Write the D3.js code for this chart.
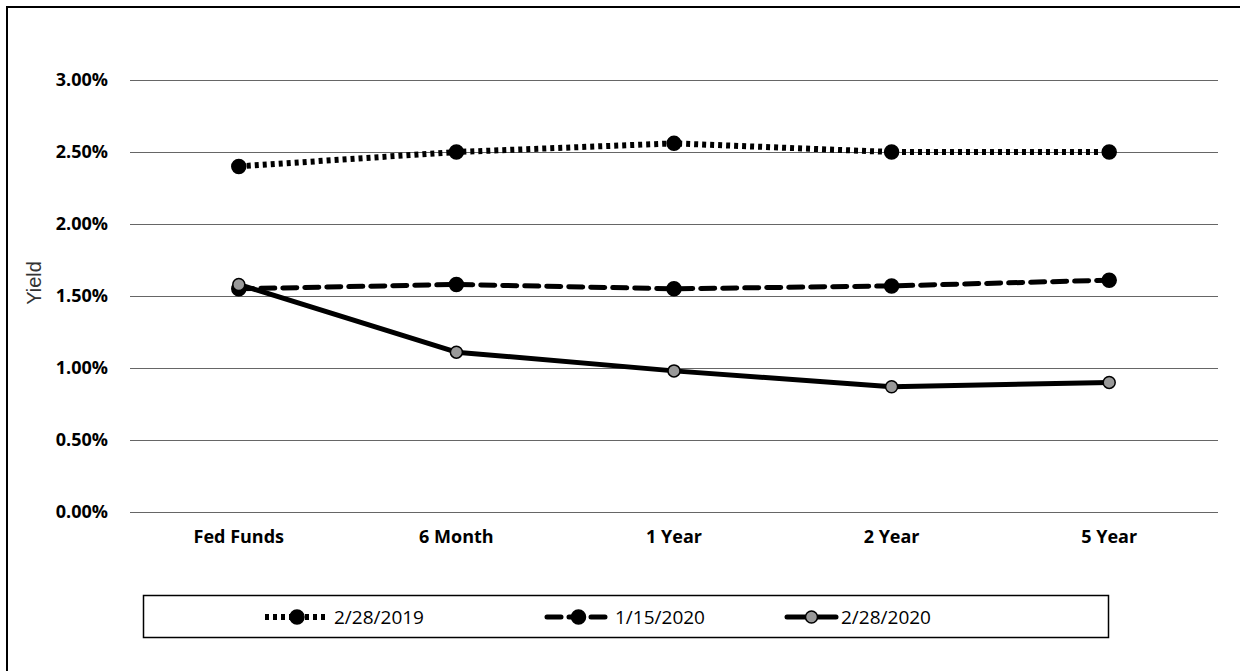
<!DOCTYPE html>
<html>
<head>
<meta charset="utf-8">
<script src="https://cdn.jsdelivr.net/npm/d3@7"></script>
<style>
  body { margin: 0; background: #fff; }
  svg { display: block; }
</style>
</head>
<body>
<div id="chart"></div>
<script>
// data
var categories = ["Fed Funds", "6 Month", "1 Year", "2 Year", "5 Year"];
var seriesNames = ["2/28/2019", "1/15/2020", "2/28/2020"];
var yield2019 = [2.40, 2.50, 2.56, 2.50, 2.50];
var yieldJan2020 = [1.55, 1.58, 1.55, 1.57, 1.61];
var yieldFeb2020 = [1.58, 1.11, 0.98, 0.87, 0.90];
var yTicks = [0, 0.5, 1.0, 1.5, 2.0, 2.5, 3.0];

var width = 1240, height = 671;
var margin = { top: 80, left: 130, right: 22, bottom: 159 };

var series = [
  { name: seriesNames[0], values: yield2019, dash: "4,4", width: 6, cap: "butt", fill: "#000", r: 7 },
  { name: seriesNames[1], values: yieldJan2020, dash: "14,8", width: 5, cap: "round", fill: "#000", r: 7 },
  { name: seriesNames[2], values: yieldFeb2020, dash: null, width: 5, cap: "round", fill: "#999", r: 6 }
];

var svg = d3.select("#chart").append("svg")
  .attr("width", width)
  .attr("height", height);

// outer frame (only top and left edges are in the photo)
svg.append("path")
  .attr("d", "M7," + height + "V7H" + width)
  .attr("fill", "none")
  .attr("stroke", "#000")
  .attr("stroke-width", 2);

var x = d3.scaleBand()
  .domain(categories)
  .range([margin.left, width - margin.right]);

var y = d3.scaleLinear()
  .domain([0, 3])
  .range([height - margin.bottom, margin.top]);

// gridlines + y tick labels
var yAxis = svg.append("g")
  .attr("transform", "translate(" + margin.left + ",0)")
  .call(d3.axisLeft(y)
    .tickValues(yTicks)
    .tickSize(-(width - margin.left - margin.right))
    .tickPadding(22)
    .tickFormat(function (d) { return d.toFixed(2) + "%"; }));
yAxis.select(".domain").remove();
yAxis.selectAll(".tick line").attr("stroke", "#666").attr("stroke-width", 1.2);
yAxis.selectAll(".tick text")
  .attr("font-family", "'Open Sans', sans-serif")
  .attr("font-weight", "bold")
  .attr("font-size", 18)
  .attr("fill", "#000");

// x category labels
var xAxis = svg.append("g")
  .attr("transform", "translate(0," + (height - margin.bottom) + ")")
  .call(d3.axisBottom(x).tickSize(0).tickPadding(18));
xAxis.select(".domain").remove();
xAxis.selectAll(".tick text")
  .attr("font-family", "'Open Sans', sans-serif")
  .attr("font-weight", "bold")
  .attr("font-size", 18)
  .attr("fill", "#000");

// y axis title
svg.append("text")
  .attr("transform", "translate(41,283) rotate(-90)")
  .attr("text-anchor", "middle")
  .attr("font-family", "'Liberation Sans', Arial, sans-serif")
  .attr("font-size", 20)
  .attr("fill", "#333")
  .text("Yield");

var line = d3.line()
  .x(function (d, i) { return x(categories[i]) + x.bandwidth() / 2; })
  .y(function (d) { return y(d); });

series.forEach(function (s) {
  svg.append("path")
    .datum(s.values)
    .attr("d", line)
    .attr("fill", "none")
    .attr("stroke", "#000")
    .attr("stroke-width", s.width)
    .attr("stroke-linecap", s.cap)
    .attr("stroke-linejoin", "round")
    .attr("stroke-dasharray", s.dash);

  svg.append("g").selectAll("circle")
    .data(s.values)
    .enter().append("circle")
    .attr("cx", function (d, i) { return x(categories[i]) + x.bandwidth() / 2; })
    .attr("cy", function (d) { return y(d); })
    .attr("r", s.r)
    .attr("fill", s.fill)
    .attr("stroke", "#000")
    .attr("stroke-width", 1.5);
});

// legend
var legend = svg.append("g");
legend.append("rect")
  .attr("x", 143.5).attr("y", 595.5)
  .attr("width", 965).attr("height", 42)
  .attr("fill", "#fff")
  .attr("stroke", "#000")
  .attr("stroke-width", 1.5);

var legendX = [263, 545, 785];
var legendW = [68, 67, 53];
series.forEach(function (s, i) {
  var g = legend.append("g").attr("transform", "translate(" + legendX[i] + ",617)");
  g.append("line")
    .attr("x1", 2).attr("x2", legendW[i] - 2)
    .attr("stroke", "#000")
    .attr("stroke-width", s.width)
    .attr("stroke-linecap", s.cap)
    .attr("stroke-dasharray", s.dash);
  g.append("circle")
    .attr("cx", legendW[i] / 2)
    .attr("r", s.r)
    .attr("fill", s.fill)
    .attr("stroke", "#000")
    .attr("stroke-width", 1.5);
  g.append("text")
    .attr("x", legendW[i] + 3)
    .attr("dy", "0.35em")
    .attr("font-family", "'Open Sans', sans-serif")
    .attr("font-size", 19)
    .attr("fill", "#000")
    .text(s.name);
});
</script>
</body>
</html>
